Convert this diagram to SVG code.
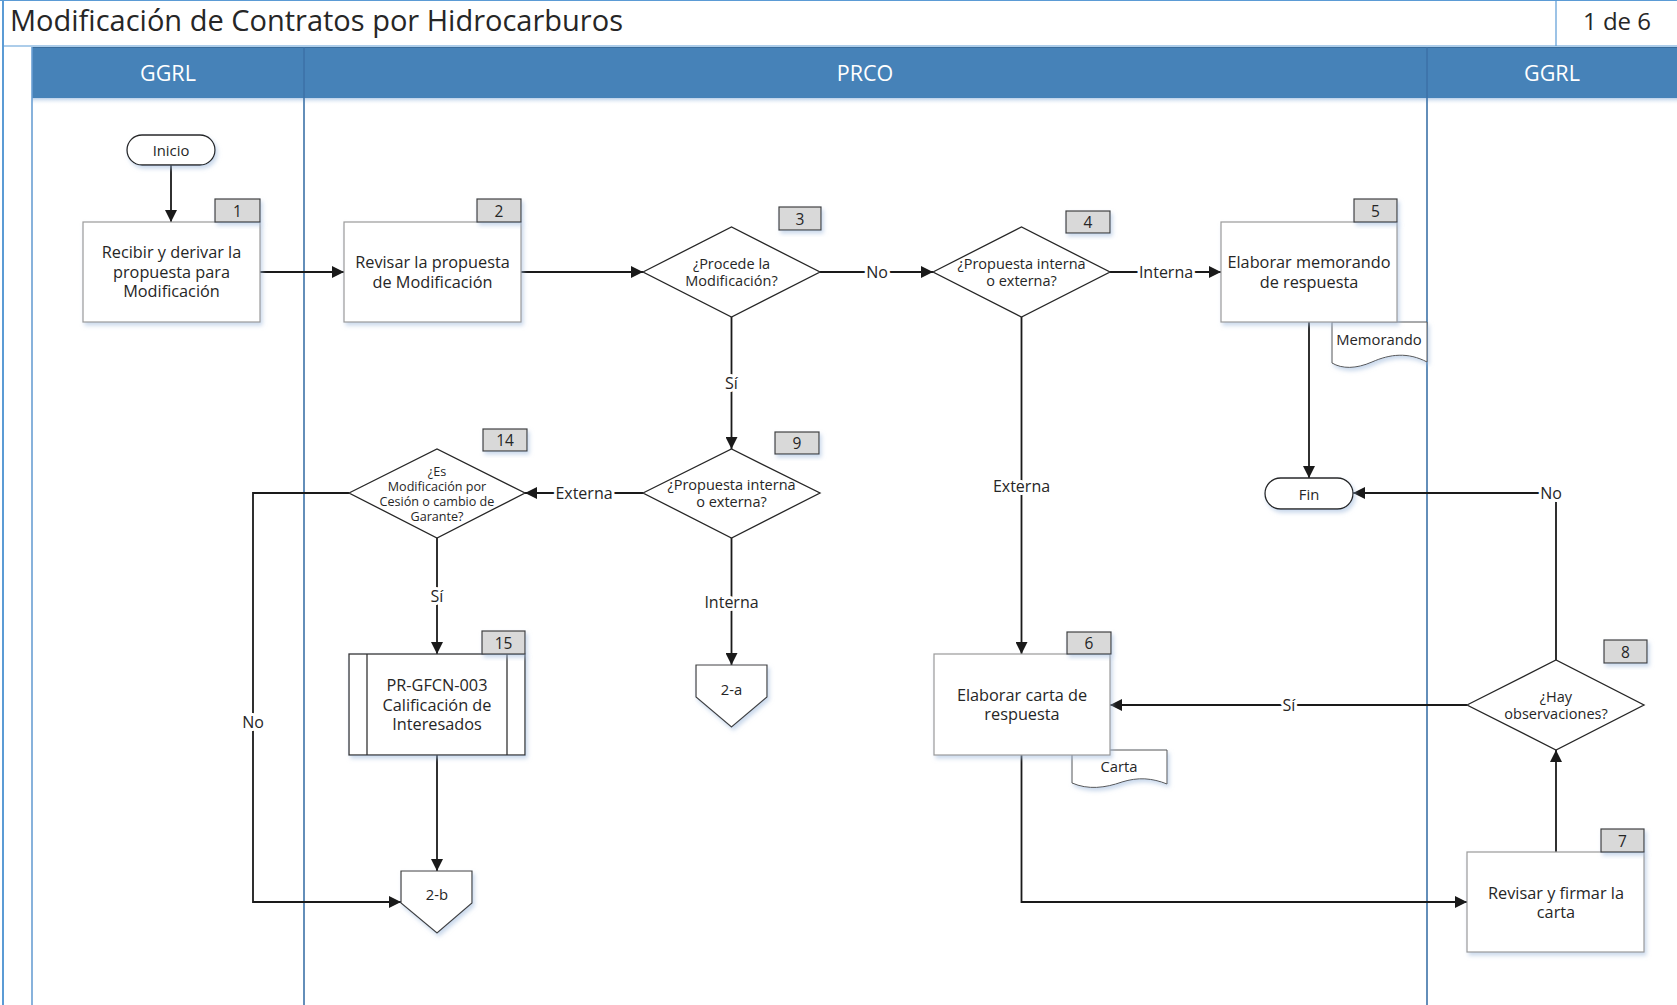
<svg xmlns="http://www.w3.org/2000/svg" width="1677" height="1005" viewBox="0 0 1677 1005">
  <defs>
    <marker id="arrow" markerUnits="userSpaceOnUse" markerWidth="12" markerHeight="12" refX="12" refY="6" orient="auto">
      <path d="M0,0 L12,6 L0,12 Z" fill="#1a1a1a"/>
    </marker>
    <filter id="shadow" x="-10%" y="-10%" width="130%" height="140%">
      <feDropShadow dx="2" dy="3" stdDeviation="2" flood-color="#9fb9dc" flood-opacity="0.55"/>
    </filter>
    <linearGradient id="bandShade" x1="0" y1="0" x2="0" y2="1">
      <stop offset="0" stop-color="#b9cfe8"/>
      <stop offset="1" stop-color="#ffffff" stop-opacity="0"/>
    </linearGradient>
  </defs>
  <style>
    text { font-family: "Open Sans", "Liberation Sans", sans-serif; fill: #262626; }
    .title { font-size: 29px; }
    .page { font-size: 24px; text-anchor: middle; }
    .lane { font-size: 21.5px; fill: #ffffff; text-anchor: middle; dominant-baseline: central; }
    .box { fill: #ffffff; stroke: #9a9a9a; stroke-width: 1.2; filter: url(#shadow); }
    .dec { fill: #ffffff; stroke: #262626; stroke-width: 1.3; }
    .term { fill: #ffffff; stroke: #262626; stroke-width: 1.3; filter: url(#shadow); }
    .sub { fill: #ffffff; stroke: #333333; stroke-width: 1.3; filter: url(#shadow); }
    .off { fill: #ffffff; stroke: #404040; stroke-width: 1.2; filter: url(#shadow); }
    .doc { fill: #ffffff; stroke: #555555; stroke-width: 1; filter: url(#shadow); }
    .badge { fill: #d9d9d9; stroke: #404040; stroke-width: 1.2; filter: url(#shadow); }
    .bt { font-size: 15.5px; text-anchor: middle; dominant-baseline: central; }
    .t { font-size: 16.3px; text-anchor: middle; dominant-baseline: central; }
    .dt { font-size: 14.5px; text-anchor: middle; dominant-baseline: central; }
    .dts { font-size: 12.6px; text-anchor: middle; dominant-baseline: central; }
    .st { font-size: 14.8px; text-anchor: middle; dominant-baseline: central; }
    .conn path { fill: none; stroke: #1a1a1a; stroke-width: 1.8; marker-end: url(#arrow); }
    .lbl { font-size: 16px; text-anchor: middle; dominant-baseline: central; stroke: #ffffff; stroke-width: 6px; stroke-linejoin: round; paint-order: stroke; }
    .lanebar { stroke: #3d72a8; stroke-width: 1.6; }
  </style>

  <!-- title row -->
  <g id="header">
    <rect x="0" y="0" width="1677" height="1005" fill="#ffffff"/>
    <line x1="3" y1="0" x2="3" y2="1005" stroke="#5b9bd5" stroke-width="2"/>
    <line x1="0" y1="0.5" x2="1677" y2="0.5" stroke="#5b9bd5" stroke-width="1"/>
    <line x1="3" y1="46" x2="1677" y2="46" stroke="#5b9bd5" stroke-width="1"/>
    <line x1="1556" y1="0" x2="1556" y2="46" stroke="#5b9bd5" stroke-width="1.2"/>
    <text class="title" x="10" y="31">Modificación de Contratos por Hidrocarburos</text>
    <text class="page" x="1617" y="30">1 de 6</text>
  </g>

  <!-- swimlanes -->
  <g id="lanes">
    <rect x="32" y="47" width="1645" height="51" fill="#4682b8"/>
    <line x1="32" y1="47.5" x2="1677" y2="47.5" stroke="#3a6d9c" stroke-width="1.2"/>
    <rect x="32" y="98" width="1645" height="7" fill="url(#bandShade)"/>
    <line x1="32" y1="47" x2="32" y2="1005" stroke="#6a9fd3" stroke-width="1.6"/>
    <line class="lanebar" x1="304" y1="47" x2="304" y2="1005"/>
    <line class="lanebar" x1="1427" y1="47" x2="1427" y2="1005"/>
    <text class="lane" x="168" y="72">GGRL</text>
    <text class="lane" x="865" y="72">PRCO</text>
    <text class="lane" x="1552" y="72">GGRL</text>
  </g>

  <!-- connectors -->
  <g id="connectors" class="conn">
    <path d="M171,165 V222"/>
    <path d="M260,272 H344"/>
    <path d="M521,272 H643"/>
    <path d="M820,272 H933"/>
    <path d="M1110,272 H1221"/>
    <path d="M1309,322 V478"/>
    <path d="M731.5,317 V449"/>
    <path d="M643,493 H525"/>
    <path d="M731.5,538 V665"/>
    <path d="M437,538 V654"/>
    <path d="M349,493 H253 V902 H401"/>
    <path d="M437,755 V871"/>
    <path d="M1021.5,317 V654"/>
    <path d="M1021.5,755 V902 H1467"/>
    <path d="M1556,852 V750"/>
    <path d="M1467,705 H1110"/>
    <path d="M1556,660 V493 H1353"/>
    <text class="lbl" x="877" y="272">No</text>
    <text class="lbl" x="1166" y="272">Interna</text>
    <text class="lbl" x="731.5" y="383">Sí</text>
    <text class="lbl" x="584" y="493">Externa</text>
    <text class="lbl" x="731.5" y="602">Interna</text>
    <text class="lbl" x="437" y="596">Sí</text>
    <text class="lbl" x="253" y="722">No</text>
    <text class="lbl" x="1021.5" y="486">Externa</text>
    <text class="lbl" x="1289" y="705">Sí</text>
    <text class="lbl" x="1551" y="493">No</text>
  </g>

  <!-- start -->
  <g id="inicio">
    <rect class="term" x="127" y="135" width="88" height="30" rx="15"/>
    <text class="st" x="171" y="150">Inicio</text>
  </g>

  <!-- 1 -->
  <g id="n1">
    <rect class="box" x="83" y="222" width="177" height="100"/>
    <rect class="badge" x="215" y="199" width="45" height="23"/>
    <text class="bt" x="237.5" y="210.5">1</text>
    <text class="t" x="171.5" y="252">Recibir y derivar la</text>
    <text class="t" x="171.5" y="272">propuesta para</text>
    <text class="t" x="171.5" y="291">Modificación</text>
  </g>

  <!-- 2 -->
  <g id="n2">
    <rect class="box" x="344" y="222" width="177" height="100"/>
    <rect class="badge" x="477" y="199" width="44" height="23"/>
    <text class="bt" x="499" y="210.5">2</text>
    <text class="t" x="432.5" y="262">Revisar la propuesta</text>
    <text class="t" x="432.5" y="282">de Modificación</text>
  </g>

  <!-- 3 -->
  <g id="n3">
    <polygon class="dec" points="643,272 731.5,227 820,272 731.5,317"/>
    <rect class="badge" x="779" y="207" width="42" height="23"/>
    <text class="bt" x="800" y="218.5">3</text>
    <text class="dt" x="731.5" y="263">¿Procede la</text>
    <text class="dt" x="731.5" y="280">Modificación?</text>
  </g>

  <!-- 4 -->
  <g id="n4">
    <polygon class="dec" points="933,272 1021.5,227 1110,272 1021.5,317"/>
    <rect class="badge" x="1066" y="211" width="44" height="22"/>
    <text class="bt" x="1088" y="222">4</text>
    <text class="dt" x="1021.5" y="263">¿Propuesta interna</text>
    <text class="dt" x="1021.5" y="280">o externa?</text>
  </g>

  <!-- 5 -->
  <g id="n5">
    <path class="doc" d="M1332,322 H1427 V362 C1408,352 1390,354 1372,362 C1356,369 1342,369 1332,363 Z"/>
    <text class="st" x="1379" y="339">Memorando</text>
    <rect class="box" x="1221" y="222" width="176" height="100"/>
    <rect class="badge" x="1354" y="199" width="43" height="23"/>
    <text class="bt" x="1375.5" y="210.5">5</text>
    <text class="t" x="1309" y="262">Elaborar memorando</text>
    <text class="t" x="1309" y="282">de respuesta</text>
  </g>

  <!-- end -->
  <g id="fin">
    <rect class="term" x="1265" y="478" width="88" height="31" rx="15.5"/>
    <text class="st" x="1309" y="493.5">Fin</text>
  </g>

  <!-- 9 -->
  <g id="n9">
    <polygon class="dec" points="643,493 731.5,449 820,493 731.5,538"/>
    <rect class="badge" x="775" y="432" width="44" height="22"/>
    <text class="bt" x="797" y="443">9</text>
    <text class="dt" x="731.5" y="484.5">¿Propuesta interna</text>
    <text class="dt" x="731.5" y="501.5">o externa?</text>
  </g>

  <!-- 14 -->
  <g id="n14">
    <polygon class="dec" points="349,493 437,449 525,493 437,538"/>
    <rect class="badge" x="483" y="429" width="44" height="22"/>
    <text class="bt" x="505" y="440">14</text>
    <text class="dts" x="437" y="471">¿Es</text>
    <text class="dts" x="437" y="486">Modificación por</text>
    <text class="dts" x="437" y="501">Cesión o cambio de</text>
    <text class="dts" x="437" y="516">Garante?</text>
  </g>

  <!-- 15 -->
  <g id="n15">
    <rect class="sub" x="349" y="654" width="176" height="101"/>
    <line x1="367" y1="654" x2="367" y2="755" stroke="#333333" stroke-width="1.3"/>
    <line x1="507" y1="654" x2="507" y2="755" stroke="#333333" stroke-width="1.3"/>
    <rect class="badge" x="482" y="631" width="43" height="23"/>
    <text class="bt" x="503.5" y="642.5">15</text>
    <text class="t" x="437" y="685">PR-GFCN-003</text>
    <text class="t" x="437" y="705">Calificación de</text>
    <text class="t" x="437" y="724">Interesados</text>
  </g>

  <!-- off-page 2-a -->
  <g id="p2a">
    <polygon class="off" points="696,665 767,665 767,697 731.5,727 696,697"/>
    <text class="st" x="731.5" y="689">2-a</text>
  </g>

  <!-- off-page 2-b -->
  <g id="p2b">
    <polygon class="off" points="401,871 472,871 472,903 437,933 401,903"/>
    <text class="st" x="437" y="894">2-b</text>
  </g>

  <!-- 6 -->
  <g id="n6">
    <path class="doc" d="M1072,750 H1167 V784 C1152,778 1138,777 1122,782 C1105,788 1088,790 1072,783 Z"/>
    <text class="st" x="1119" y="766">Carta</text>
    <rect class="box" x="934" y="654" width="176" height="101"/>
    <rect class="badge" x="1067" y="632" width="44" height="22"/>
    <text class="bt" x="1089" y="643">6</text>
    <text class="t" x="1022" y="695">Elaborar carta de</text>
    <text class="t" x="1022" y="714">respuesta</text>
  </g>

  <!-- 7 -->
  <g id="n7">
    <rect class="box" x="1467" y="852" width="177" height="100"/>
    <rect class="badge" x="1601" y="829" width="43" height="23"/>
    <text class="bt" x="1622.5" y="840.5">7</text>
    <text class="t" x="1556" y="893">Revisar y firmar la</text>
    <text class="t" x="1556" y="912">carta</text>
  </g>

  <!-- 8 -->
  <g id="n8">
    <polygon class="dec" points="1467,705 1556,660 1644,705 1556,750"/>
    <rect class="badge" x="1604" y="640" width="43" height="23"/>
    <text class="bt" x="1625.5" y="651.5">8</text>
    <text class="dt" x="1556" y="696">¿Hay</text>
    <text class="dt" x="1556" y="713">observaciones?</text>
  </g>
</svg>
